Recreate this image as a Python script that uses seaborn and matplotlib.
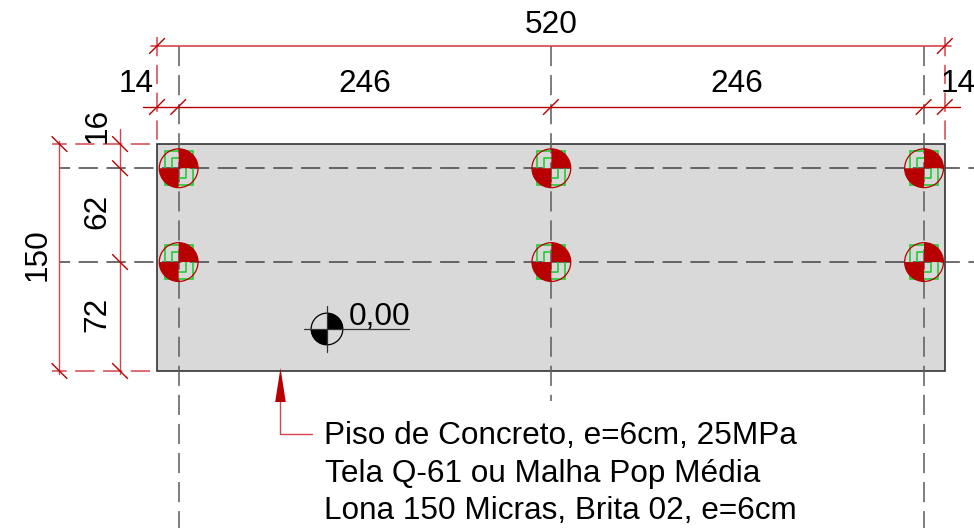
import numpy as np
import pandas as pd
import seaborn as sns
from matplotlib import pyplot as plt
from matplotlib.patches import Wedge, Rectangle, Polygon

# dimensions of the slab, cm
total_w = 520
total_h = 150
chain_x = [14, 246, 246, 14]
chain_y = [72, 62, 16]
level_label = "0,00"
note_lines = ["Piso de Concreto, e=6cm, 25MPa",
              "Tela Q-61 ou Malha Pop Média",
              "Lona 150 Micras, Brita 02, e=6cm"]

RED = "#b80000"
SOFT = "#d4444c"
GREEN = "#22cc33"
SX = 1.515
SY = 1.513

sns.set_style("white")
plt.rcParams['font.family'] = ['Liberation Sans', 'DejaVu Sans']
plt.rcParams['text.color'] = 'black'

fig = plt.figure(figsize=(9.74, 5.28), dpi=100)
ax = fig.add_axes([0, 0, 1, 1])
ax.set_xlim(-157 / SX, (974 - 157) / SX)
ax.set_ylim((371 - 528) / SY, 371 / SY)
ax.axis("off")


def line(xs, ys, color="#555555", lw=1.0, dash=None, offset=0, z=3):
    df = pd.DataFrame({"x": xs, "y": ys})
    kw = {} if dash is None else {"linestyle": (offset, dash)}
    sns.lineplot(data=df, x="x", y="y", ax=ax, color=color, lw=lw, estimator=None,
                 sort=False, zorder=z, **kw)


def tick(x, y, sign):
    # oblique dimension tick
    d = 7.5 / SX
    line([x - d, x + d], [y - sign * d, y + sign * d], color=RED, lw=1.0, z=5)


grid_x = np.cumsum(chain_x)[:-1]
grid_y = np.cumsum(chain_y)[:-1]
nodes_x = np.cumsum([0] + chain_x)
nodes_y = np.cumsum([0] + chain_y)
long_dash = (12.6, 5.6)

ax.add_patch(Rectangle((0, 0), total_w, total_h, fc="#d9d9d9", ec="#333333", lw=1.2, zorder=1))

# axis lines, the middle one stops above the note
for gx, end in zip(grid_x, [-104, -20, -104]):
    line([gx + 0.3, gx + 0.3], [214.8, end], dash=long_dash, lw=1.15, color="#606060")
for gy in grid_y:
    line([-64, 539], [gy, gy], dash=long_dash, offset=6, lw=1.1, color="#444444")

# extension lines
for ex in [0, total_w]:
    line([ex, ex], [221, total_h + 1], color=SOFT, lw=1.1, dash=long_dash)
for ey in [0, total_h]:
    line([-69, -4.5], [ey, ey], color=SOFT, lw=1.1, dash=long_dash, offset=3)

# horizontal dimensions
y_top = 214.8
y_chain = 174.5
line([-4, total_w + 4], [y_top, y_top], color=SOFT, lw=1.2)
line([-9, total_w + 10], [y_chain, y_chain], color=RED, lw=1.0)
for n in [0, total_w]:
    tick(n, y_top, 1)
for n in nodes_x:
    tick(n, y_chain, 1)

# vertical dimensions
x_total = -64.4
x_chain = -24.4
line([x_total, x_total], [-2, total_h + 2], color=SOFT, lw=1.0)
line([x_chain, x_chain], [-2, total_h + 10], color=SOFT, lw=1.0)
for n in [0, total_h]:
    tick(x_total, n, -1)
for n in nodes_y:
    tick(x_chain, n, -1)

# columns
cols = pd.DataFrame([(gx + 0.3, gy) for gx in grid_x for gy in grid_y], columns=["x", "y"])
for gx, gy in zip(cols["x"], cols["y"]):
    ax.add_patch(Rectangle((gx - 9.2, gy - 11.2), 18.4, 22.4, fc="none", ec=GREEN, lw=1.2, zorder=4))
    line([gx - 4.6, gx - 4.6, gx], [gy, gy + 6.6, gy + 6.6], color=GREEN, lw=1.2, z=4)
    line([gx + 4.6, gx + 4.6, gx], [gy, gy - 6.6, gy - 6.6], color=GREEN, lw=1.2, z=4)
    ax.add_patch(Wedge((gx, gy), 12.8, 0, 90, fc=RED, ec="none", zorder=6))
    ax.add_patch(Wedge((gx, gy), 12.8, 180, 270, fc=RED, ec="none", zorder=6))
sns.scatterplot(data=cols, x="x", y="y", ax=ax, s=780, facecolor="none", edgecolor=RED,
                linewidth=0.9, zorder=7, legend=False)
ax.set_xlabel("")
ax.set_ylabel("")

# level mark
lx, ly = (327 - 157) / SX, (371 - 329) / SY
line([lx - 15, lx + 54], [ly, ly], color="#333333", lw=0.9, z=8)
line([lx, lx], [ly - 15, ly + 15], color="#333333", lw=0.9, z=8)
ax.add_patch(Wedge((lx, ly), 10.6, 0, 90, fc="black", ec="none", zorder=7))
ax.add_patch(Wedge((lx, ly), 10.6, 180, 270, fc="black", ec="none", zorder=7))
sns.scatterplot(x=[lx], y=[ly], ax=ax, s=520, facecolor="none", edgecolor="black",
                linewidth=0.9, zorder=7, legend=False)
ax.set_xlabel("")
ax.set_ylabel("")
ax.text(lx + 14.5, ly - 1.8, level_label, fontsize=22.7, ha="left", va="bottom", zorder=9)

# note arrow
ax.add_patch(Polygon([(81.5, 2), (78, -20.5), (85, -20.5)], fc=RED, ec="none", zorder=6))
line([81.5, 81.5, 102], [-20, -41.5, -41.5], color=SOFT, lw=1.0)

# labels
fs = 22.7
ax.text(total_w / 2, 228.5, str(total_w), fontsize=fs, ha="center", va="center")
for a, b, v in zip(nodes_x[:-1], nodes_x[1:], chain_x):
    ax.text((a + b) / 2 if v > 20 else (-14 if a == 0 else 529), 189.5, str(v), fontsize=fs,
            ha="center", va="center", clip_on=True)
ax.text(-79, total_h / 2 + 1.6, str(total_h), fontsize=fs, ha="center", va="center", rotation=90)
for a, b, v in zip(nodes_y[:-1], nodes_y[1:], chain_y):
    ax.text(-39.5, (a + b) / 2 + 1.5 + (1 if v == 62 else 0) if v > 20 else 162.5, str(v),
            fontsize=fs, ha="center", va="center", rotation=90)

for txt, x0, yy in zip(note_lines, [110, 111, 110], [-43, -68, -92.5]):
    ax.text(x0, yy, txt, fontsize=fs, ha="left", va="center")

fig.savefig("out.png", dpi=100)
